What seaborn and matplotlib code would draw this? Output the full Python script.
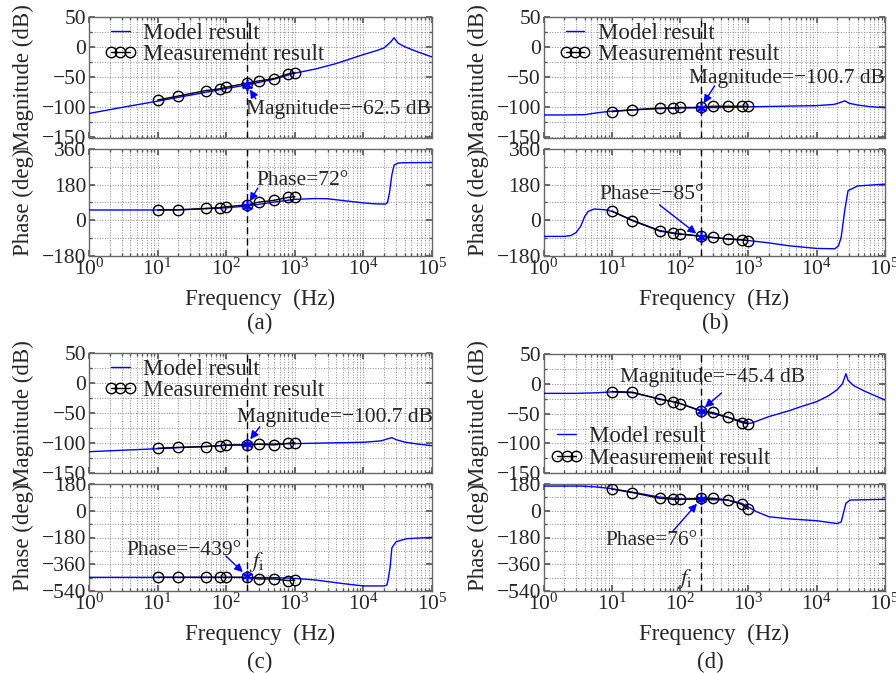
import seaborn as sns
import matplotlib.pyplot as plt
from matplotlib.lines import Line2D
from matplotlib.ticker import LogLocator, MultipleLocator, NullFormatter, LogFormatterMathtext

# measurement frequencies (Hz) and the marked frequency f_i
meas_f = [10, 20, 50, 80, 100, 200, 300, 500, 800, 1000]
f_i = 200

# ---- (a) ----
a_mag_f = [1, 3, 10, 30, 100, 200, 500, 1000, 2000, 4000, 10000, 15000, 20000, 25000, 28000, 32000, 40000, 60000, 100000]
a_mag = [-110, -100, -89.5, -79.5, -68.5, -62.5, -53, -43, -36, -27, -12, -6, -1, 9, 16, 7, 1, -7, -16]
a_ph_f = [1, 10, 30, 100, 200, 500, 1000, 2000, 3000, 5000, 10000, 15000, 21000, 22500, 24000, 26000, 28000, 32000, 40000, 100000]
a_ph = [52, 52, 55, 63, 72, 92, 106, 110, 109, 100, 88, 83, 82, 90, 140, 230, 280, 290, 292, 293]
a_meas_mag = [-87.6, -81, -72, -69, -66.3, -59.6, -55.8, -51.9, -44, -41.9]
a_meas_ph = [52, 52, 60, 63.5, 68.5, 78, 92, 101, 116, 119]
a_mark = (-62.5, 72)

# ---- (b) ----
b_mag_f = [1, 2, 4, 6, 10, 20, 50, 100, 200, 500, 1000, 3000, 10000, 18000, 22000, 26000, 30000, 40000, 60000, 100000]
b_mag = [-112.5, -112.5, -112, -109, -106, -104, -102, -101, -100.5, -100, -99, -98, -97, -95, -92, -89, -93, -96, -98.5, -100.5]
b_ph_f = [1, 2, 2.5, 3, 3.5, 4, 4.5, 5.5, 8, 10, 20, 50, 100, 200, 500, 1000, 2000, 4000, 10000, 18500, 21000, 23000, 26000, 29000, 40000, 100000]
b_ph = [-82, -82, -78, -62, -30, 20, 45, 57, 53, 45, 0, -52, -70, -82, -95, -103, -115, -130, -143, -145, -130, -87, 52, 150, 174, 183]
b_meas_mag = [-107, -104, -101, -101, -100, -100, -98, -98, -98, -98]
b_meas_ph = [47, -2, -55, -67, -70, -80, -87, -95, -99, -104]
b_mark = (-100.7, -85)

# ---- (c) ----
c_mag_f = [1, 10, 100, 200, 1000, 10000, 18000, 22000, 26000, 30000, 40000, 60000, 100000]
c_mag = [-114, -109, -103.5, -101.7, -100.5, -98.3, -96, -93, -90.5, -94, -98, -101, -104]
c_ph_f = [1, 100, 500, 1000, 2000, 5000, 10000, 20000, 22000, 23000, 24500, 26000, 30000, 43000, 100000]
c_ph = [-448, -448, -450, -455, -466, -490, -506, -506, -500, -460, -380, -250, -208, -188, -179]
c_meas_mag = [-108.3, -106.7, -105.6, -104, -102.8, -102.8, -101.7, -102.8, -100, -99]
c_meas_ph = [-448, -448, -448, -448, -448, -448, -459, -459, -470, -466]
c_mark = (-100.7, -439)

# ---- (d) ----
d_mag_f = [1, 3, 6, 10, 20, 50, 100, 200, 500, 1000, 1100, 2000, 4000, 6000, 10000, 15000, 20000, 24000, 27000, 29000, 35000, 50000, 100000]
d_mag = [-16, -16, -15, -13.5, -15, -25, -33, -45.4, -56, -66, -66, -55, -45, -38, -30, -20, -10, 0, 17, 6, -3, -12, -27]
d_ph_f = [1, 3.5, 6, 10, 20, 50, 100, 200, 500, 800, 1000, 1300, 2000, 4000, 10000, 20000, 23000, 25000, 27000, 31000, 100000]
d_ph = [166, 166, 160, 148, 125, 92, 80, 76, 72, 50, 25, -5, -40, -55, -67, -86, -75, -10, 50, 72, 77]
d_meas_mag = [-13, -14, -26, -30, -33, -45, -48, -56, -65, -67]
d_meas_ph = [146, 122, 84, 77, 77, 84, 84, 72, 43, 10]
d_mark = (-45.4, 76)

mag_ticks = [-150, -100, -50, 0, 50]
ph_ticks_ab = [-180, 0, 180, 360]
ph_ticks_cd = [-540, -360, -180, 0, 180]

sns.set_theme(style="ticks")
plt.rcParams["font.family"] = ["Liberation Serif", "DejaVu Serif"]
plt.rcParams["mathtext.fontset"] = "stix"
plt.rcParams["axes.unicode_minus"] = True

FS = 16.5     # labels, legend
AFS = 15.5    # annotations
TFS = 15.5    # tick labels
W, H = 896, 673


def rect(x0, y0, x1, y1):
    return [x0 / W, 1 - y1 / H, (x1 - x0) / W, (y1 - y0) / H]


panels = [
    dict(tag="(a)", x=(89, 432), mag_y=(17.3, 137.5), ph_y=(149.3, 255.7),
         mag_f=a_mag_f, mag=a_mag, ph_f=a_ph_f, ph=a_ph,
         meas_mag=a_meas_mag, meas_ph=a_meas_ph, mark=a_mark,
         ph_lim=(-180, 360), ph_ticks=ph_ticks_ab, leg=("upper left", (0.045, 0.955)),
         mag_txt=("Magnitude=\u221262.5 dB", (-1, -25), (9, -14)),
         ph_txt=("Phase=72\u00b0", (10, 26), (11, 18)), fi=None, tag_xy=(260, 323)),
    dict(tag="(b)", x=(543.7, 884.7), mag_y=(17.3, 137.5), ph_y=(149.3, 255.7),
         mag_f=b_mag_f, mag=b_mag, ph_f=b_ph_f, ph=b_ph,
         meas_mag=b_meas_mag, meas_ph=b_meas_ph, mark=b_mark,
         ph_lim=(-180, 360), ph_ticks=ph_ticks_ab, leg=("upper left", (0.045, 0.955)),
         mag_txt=("Magnitude=\u2212100.7 dB", (-12, 29), (14, 22)),
         ph_txt=("Phase=\u221285\u00b0", (-101, 42), (-41, 32)), fi=None, tag_xy=(715, 323)),
    dict(tag="(c)", x=(89, 432), mag_y=(353.3, 473.3), ph_y=(484, 591),
         mag_f=c_mag_f, mag=c_mag, ph_f=c_ph_f, ph=c_ph,
         meas_mag=c_meas_mag, meas_ph=c_meas_ph, mark=c_mark,
         ph_lim=(-540, 180), ph_ticks=ph_ticks_cd, leg=("upper left", (0.045, 0.955)),
         mag_txt=("Magnitude=\u2212100.7 dB", (-10, 26), (13, 17)),
         ph_txt=("Phase=\u2212439\u00b0", (-120, 25), (-21, 20)), fi=(10, 14), tag_xy=(260, 662)),
    dict(tag="(d)", x=(543.7, 884.7), mag_y=(354, 473.3), ph_y=(484, 591),
         mag_f=d_mag_f, mag=d_mag, ph_f=d_ph_f, ph=d_ph,
         meas_mag=d_meas_mag, meas_ph=d_meas_ph, mark=d_mark,
         ph_lim=(-540, 180), ph_ticks=ph_ticks_cd, leg=("lower left", (0.02, 0.04)),
         mag_txt=("Magnitude=\u221245.4 dB", (-81, 33), (21, 18)),
         ph_txt=("Phase=76\u00b0", (-95, -41), (-28, -32)), fi=(-16, -80), tag_xy=(710, 662)),
]


def style_axis(ax, ylim, yticks, minor_step):
    ax.set_xscale("log")
    ax.set_xlim(1, 1e5)
    ax.set_ylim(*ylim)
    ax.set_yticks(yticks)
    ax.yaxis.set_minor_locator(MultipleLocator(minor_step))
    ax.xaxis.set_major_locator(LogLocator(base=10, numticks=10))
    ax.xaxis.set_minor_locator(LogLocator(base=10, subs=range(2, 10), numticks=20))
    ax.xaxis.set_minor_formatter(NullFormatter())
    ax.grid(True, which="both", ls=":", color="0.55", lw=0.7)
    ax.tick_params(which="both", direction="in", top=True, right=True,
                   color="0.35", labelsize=TFS, pad=2)
    ax.tick_params(which="major", length=4)
    ax.tick_params(which="minor", length=2)
    for sp in ax.spines.values():
        sp.set_color("0.4")
        sp.set_linewidth(1)
    ax.set_facecolor("white")


def mark_point(ax, val, text, text_off, tail_off):
    ax.plot([f_i], [val], ls="none", marker=(6, 2, 0), ms=8, mew=1.2, color="blue", zorder=6)
    ax.annotate("", xy=(f_i, val), xytext=tail_off, textcoords="offset pixels",
                arrowprops=dict(arrowstyle="-|>", color="blue", lw=1, shrinkA=0,
                                shrinkB=4, mutation_scale=12), zorder=7)
    ax.annotate(text, xy=(f_i, val), xytext=text_off, textcoords="offset pixels",
                ha="left", va="center", fontsize=AFS, zorder=7)


fig = plt.figure(figsize=(W / 100, H / 100), dpi=100)

for p in panels:
    x0, x1 = p["x"]
    ax_m = fig.add_axes(rect(x0, p["mag_y"][0], x1, p["mag_y"][1]))
    ax_p = fig.add_axes(rect(x0, p["ph_y"][0], x1, p["ph_y"][1]))
    style_axis(ax_m, (-150, 50), mag_ticks, 25)
    style_axis(ax_p, p["ph_lim"], p["ph_ticks"], 90)

    for ax, mf, mv, meas in ((ax_m, p["mag_f"], p["mag"], p["meas_mag"]),
                             (ax_p, p["ph_f"], p["ph"], p["meas_ph"])):
        sns.lineplot(x=mf, y=mv, ax=ax, color="blue", lw=1, errorbar=None, zorder=3)
        sns.lineplot(x=meas_f, y=meas, ax=ax, color="black", lw=1, errorbar=None,
                     marker="o", markersize=7.5, markerfacecolor="none",
                     markeredgecolor="black", markeredgewidth=1, zorder=4)
        ax.axvline(f_i, color="black", ls=(0, (5, 3)), lw=1, zorder=2)

    mark_point(ax_m, p["mark"][0], *p["mag_txt"])
    mark_point(ax_p, p["mark"][1], *p["ph_txt"])
    if p["fi"] is not None:
        ax_p.annotate(r"$f_\mathrm{i}$", xy=(f_i, p["mark"][1]), xytext=p["fi"],
                      textcoords="offset pixels", ha="center", va="center", fontsize=FS)

    ax_m.set_xticklabels([])
    ax_m.set_xlabel("")
    ax_p.xaxis.set_major_formatter(LogFormatterMathtext())
    ax_m.set_ylabel("Magnitude (dB)", fontsize=FS)
    ax_p.set_ylabel("Phase (deg)", fontsize=FS)
    ax_m.yaxis.set_label_coords(-0.16, 0.5)
    ax_p.yaxis.set_label_coords(-0.16, 0.5)
    ax_p.set_xlabel("Frequency  (Hz)", fontsize=FS)
    ax_p.xaxis.set_label_coords(0.5, -0.31)

    handles = [Line2D([], [], color="blue", lw=1),
               Line2D([], [], color="black", lw=1, marker="o", ms=7.5,
                      markerfacecolor="none", markeredgewidth=1)]
    loc, anchor = p["leg"]
    ax_m.legend(handles, ["Model result", "Measurement result"], loc=loc,
                bbox_to_anchor=anchor, frameon=False, fontsize=FS, numpoints=3,
                handlelength=1.4, handletextpad=0.3, labelspacing=0.0,
                borderpad=0, borderaxespad=0)

    fig.text(p["tag_xy"][0] / W, 1 - p["tag_xy"][1] / H, p["tag"],
             ha="center", va="center", fontsize=FS)

fig.savefig("out.png", dpi=100)
